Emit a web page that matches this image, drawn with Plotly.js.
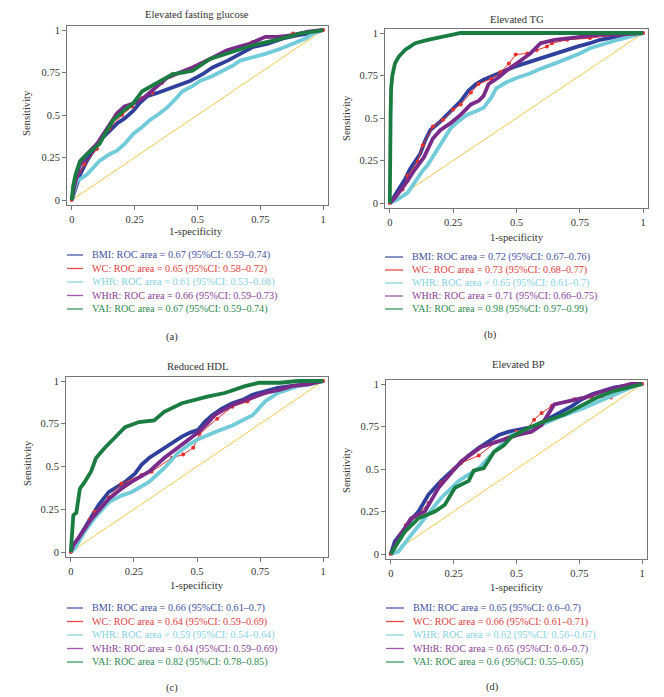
<!DOCTYPE html>
<html>
<head>
<meta charset="utf-8">
<script src="https://cdn.plot.ly/plotly-3.0.1.min.js"></script>
<style>html,body{margin:0;padding:0;background:#fff;}#chart{width:664px;height:697px;}</style>
</head>
<body>
<div id="chart"></div>
<script>
// ---------- DATA ----------
const panelTitles = ["Elevated fasting glucose", "Elevated TG", "Reduced HDL", "Elevated BP"];
const panelLabels = ["(a)", "(b)", "(c)", "(d)"];
const seriesNames = ["BMI", "WC", "WHR", "WHtR", "VAI"];
const tickVals = [0, 0.25, 0.5, 0.75, 1];
const tickText = ["0", "0.25", "0.5", "0.75", "1"];
const refLine = [0, 1];

// (a) Elevated fasting glucose
const glucBMI_x = [0,0.01,0.02,0.033,0.06,0.09,0.125,0.15,0.18,0.21,0.245,0.27,0.30,0.34,0.38,0.43,0.47,0.52,0.56,0.62,0.67,0.72,0.78,0.84,0.9,0.95,1];
const glucBMI_y = [0,0.05,0.09,0.15,0.23,0.3,0.37,0.41,0.45,0.48,0.525,0.57,0.61,0.63,0.65,0.68,0.70,0.74,0.78,0.82,0.86,0.90,0.92,0.95,0.97,0.98,1];
const glucWC_x = [0,0.01,0.02,0.05,0.1,0.15,0.2,0.24,0.28,0.32,0.36,0.4,0.45,0.5,0.55,0.6,0.66,0.72,0.78,0.83,0.88,0.94,1];
const glucWC_y = [0,0.07,0.12,0.21,0.3,0.42,0.5,0.55,0.6,0.63,0.69,0.74,0.76,0.79,0.83,0.86,0.89,0.93,0.96,0.96,0.98,0.99,1];
const glucWHR_x = [0,0.01,0.02,0.06,0.11,0.15,0.18,0.21,0.245,0.28,0.31,0.35,0.38,0.41,0.44,0.48,0.51,0.56,0.60,0.64,0.67,0.72,0.77,0.83,0.88,0.93,0.96,1];
const glucWHR_y = [0,0.06,0.11,0.15,0.23,0.27,0.29,0.33,0.39,0.43,0.47,0.51,0.545,0.59,0.64,0.67,0.70,0.73,0.76,0.79,0.82,0.84,0.86,0.89,0.92,0.95,0.98,1];
const glucWHtR_x = [0,0.01,0.03,0.06,0.1,0.14,0.18,0.21,0.25,0.285,0.33,0.38,0.43,0.48,0.55,0.615,0.66,0.71,0.77,0.82,0.88,0.94,1];
const glucWHtR_y = [0,0.08,0.2,0.27,0.33,0.42,0.51,0.55,0.57,0.60,0.66,0.72,0.75,0.78,0.83,0.88,0.90,0.92,0.96,0.96,0.97,0.99,1];
const glucVAI_x = [0,0.005,0.015,0.033,0.06,0.11,0.14,0.165,0.21,0.245,0.28,0.33,0.40,0.44,0.48,0.55,0.64,0.72,0.81,0.86,0.91,0.96,1];
const glucVAI_y = [0,0.08,0.15,0.23,0.27,0.33,0.41,0.47,0.53,0.57,0.64,0.68,0.74,0.75,0.76,0.83,0.87,0.91,0.94,0.96,0.98,0.99,1];

// (b) Elevated TG
const tgBMI_x = [0,0.01,0.03,0.06,0.08,0.10,0.12,0.14,0.16,0.2,0.24,0.28,0.31,0.34,0.37,0.41,0.45,0.49,0.53,0.58,0.635,0.69,0.74,0.79,0.83,0.9,0.95,1];
const tgBMI_y = [0,0.02,0.07,0.14,0.2,0.25,0.29,0.37,0.43,0.48,0.54,0.6,0.66,0.7,0.725,0.75,0.78,0.8,0.82,0.845,0.87,0.9,0.92,0.94,0.96,0.98,0.99,1];
const tgWC_x = [0,0.02,0.05,0.07,0.11,0.13,0.17,0.21,0.25,0.28,0.32,0.35,0.40,0.437,0.47,0.497,0.543,0.58,0.62,0.64,0.7,0.79,0.9,1];
const tgWC_y = [0,0.03,0.08,0.16,0.245,0.34,0.45,0.49,0.55,0.58,0.65,0.70,0.73,0.77,0.82,0.873,0.88,0.9,0.92,0.94,0.96,0.97,0.99,1];
const tgWHR_x = [0,0.03,0.07,0.11,0.13,0.15,0.2,0.24,0.27,0.305,0.34,0.37,0.4,0.42,0.46,0.5,0.55,0.595,0.65,0.7,0.75,0.79,0.85,0.9,0.95,1];
const tgWHR_y = [0,0.02,0.06,0.15,0.19,0.225,0.34,0.44,0.48,0.52,0.54,0.56,0.62,0.675,0.71,0.735,0.76,0.79,0.82,0.85,0.88,0.91,0.94,0.96,0.98,1];
const tgWHtR_x = [0,0.02,0.04,0.07,0.095,0.135,0.17,0.2,0.24,0.28,0.32,0.35,0.37,0.39,0.43,0.47,0.5,0.555,0.595,0.65,0.71,0.77,0.83,0.9,1];
const tgWHtR_y = [0,0.03,0.07,0.13,0.19,0.27,0.38,0.43,0.47,0.52,0.58,0.60,0.63,0.70,0.74,0.79,0.82,0.88,0.94,0.96,0.97,0.98,0.99,0.99,1];
const tgVAI_x = [0,0,0.003,0.005,0.01,0.02,0.035,0.06,0.1,0.15,0.2,0.26,0.28,0.5,1];
const tgVAI_y = [0,0.07,0.5,0.67,0.75,0.82,0.86,0.9,0.94,0.96,0.975,0.99,1,1,1];

// (c) Reduced HDL
const hdlBMI_x = [0,0.01,0.03,0.07,0.11,0.15,0.19,0.215,0.255,0.28,0.31,0.34,0.37,0.4,0.44,0.475,0.505,0.53,0.56,0.6,0.64,0.68,0.72,0.77,0.82,0.87,0.93,1];
const hdlBMI_y = [0,0.04,0.08,0.18,0.275,0.35,0.39,0.41,0.46,0.51,0.55,0.58,0.61,0.64,0.675,0.70,0.715,0.76,0.80,0.84,0.87,0.89,0.92,0.94,0.96,0.97,0.98,1];
const hdlWC_x = [0,0.03,0.075,0.095,0.15,0.2,0.28,0.32,0.4,0.445,0.485,0.51,0.58,0.64,0.7,0.77,0.88,1];
const hdlWC_y = [0,0.08,0.19,0.235,0.32,0.4,0.45,0.47,0.55,0.57,0.61,0.69,0.78,0.85,0.88,0.93,0.97,1];
const hdlWHR_x = [0,0.016,0.055,0.095,0.15,0.2,0.24,0.31,0.37,0.425,0.47,0.505,0.57,0.64,0.72,0.77,0.82,0.9,0.95,1];
const hdlWHR_y = [0,0.02,0.12,0.2,0.29,0.33,0.35,0.41,0.49,0.58,0.63,0.66,0.70,0.74,0.80,0.88,0.93,0.97,0.98,1];
const hdlWHtR_x = [0,0.01,0.03,0.08,0.15,0.2,0.24,0.31,0.37,0.44,0.505,0.54,0.57,0.64,0.72,0.77,0.83,0.875,0.94,1];
const hdlWHtR_y = [0,0.04,0.08,0.19,0.31,0.37,0.41,0.47,0.55,0.63,0.70,0.75,0.80,0.86,0.90,0.93,0.95,0.97,0.98,1];
const hdlVAI_x = [0,0.005,0.01,0.022,0.036,0.055,0.08,0.1,0.135,0.175,0.215,0.27,0.33,0.37,0.44,0.545,0.61,0.69,0.745,0.83,0.9,1];
const hdlVAI_y = [0,0.08,0.215,0.23,0.37,0.41,0.47,0.55,0.61,0.67,0.73,0.76,0.77,0.82,0.87,0.91,0.93,0.97,0.99,0.99,1,1];

// (d) Elevated BP
const bpBMI_x = [0,0.016,0.055,0.08,0.11,0.15,0.2,0.27,0.31,0.35,0.39,0.43,0.47,0.505,0.57,0.62,0.66,0.72,0.76,0.8,0.89,0.95,1];
const bpBMI_y = [0,0.075,0.15,0.2,0.25,0.35,0.43,0.525,0.58,0.625,0.66,0.70,0.72,0.73,0.75,0.79,0.82,0.87,0.91,0.94,0.98,0.99,1];
const bpWC_x = [0,0.04,0.06,0.1,0.15,0.2,0.25,0.28,0.35,0.42,0.5,0.545,0.57,0.6,0.64,0.73,0.8,0.875,0.94,1];
const bpWC_y = [0,0.12,0.17,0.22,0.3,0.42,0.5,0.535,0.58,0.66,0.72,0.74,0.79,0.83,0.87,0.91,0.92,0.92,0.97,1];
const bpWHR_x = [0,0.03,0.08,0.135,0.2,0.27,0.35,0.41,0.48,0.57,0.66,0.77,0.875,0.955,1];
const bpWHR_y = [0,0.015,0.11,0.21,0.33,0.43,0.505,0.60,0.70,0.74,0.80,0.86,0.93,0.98,1];
const bpWHtR_x = [0,0.03,0.08,0.135,0.19,0.23,0.28,0.36,0.44,0.505,0.56,0.6,0.65,0.72,0.77,0.85,0.955,1];
const bpWHtR_y = [0,0.09,0.21,0.25,0.39,0.46,0.545,0.63,0.67,0.70,0.72,0.76,0.88,0.90,0.92,0.96,1,1];
const bpVAI_x = [0,0.016,0.055,0.11,0.175,0.215,0.255,0.31,0.33,0.37,0.41,0.45,0.48,0.545,0.61,0.69,0.74,0.82,0.89,1];
const bpVAI_y = [0,0.035,0.13,0.21,0.25,0.29,0.39,0.43,0.49,0.505,0.60,0.64,0.69,0.74,0.78,0.82,0.86,0.92,0.96,1];

// legend texts
const legendA = ["BMI: ROC area = 0.67 (95%CI: 0.59–0.74)","WC: ROC area = 0.65 (95%CI: 0.58–0.72)","WHR: ROC area = 0.61 (95%CI: 0.53–0.68)","WHtR: ROC area = 0.66 (95%CI: 0.59–0.73)","VAI: ROC area = 0.67 (95%CI: 0.59–0.74)"];
const legendB = ["BMI: ROC area = 0.72 (95%CI: 0.67–0.76)","WC: ROC area = 0.73 (95%CI: 0.68–0.77)","WHR: ROC area = 0.65 (95%CI: 0.61–0.7)","WHtR: ROC area = 0.71 (95%CI: 0.66–0.75)","VAI: ROC area = 0.98 (95%CI: 0.97–0.99)"];
const legendC = ["BMI: ROC area = 0.66 (95%CI: 0.61–0.7)","WC: ROC area = 0.64 (95%CI: 0.59–0.69)","WHR: ROC area = 0.59 (95%CI: 0.54–0.64)","WHtR: ROC area = 0.64 (95%CI: 0.59–0.69)","VAI: ROC area = 0.82 (95%CI: 0.78–0.85)"];
const legendD = ["BMI: ROC area = 0.65 (95%CI: 0.6–0.7)","WC: ROC area = 0.66 (95%CI: 0.61–0.71)","WHR: ROC area = 0.62 (95%CI: 0.56–0.67)","WHtR: ROC area = 0.65 (95%CI: 0.6–0.7)","VAI: ROC area = 0.6 (95%CI: 0.55–0.65)"];

// ---------- STYLE / LAYOUT ----------
const W = 664, H = 697;
const FONT = '"Liberation Serif", "DejaVu Serif", serif';
const lineColors = ["#2f3f9c", "#e5302c", "#72cbd8", "#7a2a88", "#1a7c40"];
const textColors = ["#3f50a4", "#e2403c", "#86d2de", "#8a4298", "#2e8a4e"];
const sampleColors = ["#4a5aa8", "#e54a45", "#8ad4e0", "#9a5aa6", "#3a9a5a"];
const lineWidths = [3.8, 1, 3.8, 3.8, 3.8];
const px = v => v / W;
const py = v => 1 - v / H;

const panelData = [
  [[glucBMI_x, glucBMI_y],[glucWC_x, glucWC_y],[glucWHR_x, glucWHR_y],[glucWHtR_x, glucWHtR_y],[glucVAI_x, glucVAI_y]],
  [[tgBMI_x, tgBMI_y],[tgWC_x, tgWC_y],[tgWHR_x, tgWHR_y],[tgWHtR_x, tgWHtR_y],[tgVAI_x, tgVAI_y]],
  [[hdlBMI_x, hdlBMI_y],[hdlWC_x, hdlWC_y],[hdlWHR_x, hdlWHR_y],[hdlWHtR_x, hdlWHtR_y],[hdlVAI_x, hdlVAI_y]],
  [[bpBMI_x, bpBMI_y],[bpWC_x, bpWC_y],[bpWHR_x, bpWHR_y],[bpWHtR_x, bpWHtR_y],[bpVAI_x, bpVAI_y]]
];
const legends = [legendA, legendB, legendC, legendD];

// pixel geometry of each panel
const geo = [
  {box:[67,328,26,205], title:[197,15], xl:[196,232], yl:[27,113], leg:{x0:67,x1:83,tx:90,rows:[255,268.5,282,295.5,309]}, lab:[172,337]},
  {box:[385,648,29,208], title:[517,20], xl:[517,237], yl:[346,118], leg:{x0:385,x1:403,tx:410,rows:[257,270,283,296,309]}, lab:[490,335]},
  {box:[66,328,377,557], title:[197,367], xl:[197,585], yl:[27,463], leg:{x0:67,x1:83,tx:90,rows:[608,621.5,635,648.5,662]}, lab:[172,688]},
  {box:[386,647,380,559], title:[518,364], xl:[517,587], yl:[346,470], leg:{x0:386,x1:404,tx:411,rows:[608,621.5,635,648.5,662]}, lab:[492,687]}
];

const traces = [];
const layout = {
  width: W, height: H,
  margin: {l:0, r:0, t:0, b:0},
  paper_bgcolor: "#fff", plot_bgcolor: "#fff",
  showlegend: false,
  font: {family: FONT, size: 10.5, color: "#333"},
  annotations: [], shapes: []
};

geo.forEach((g, p) => {
  const n = p === 0 ? "" : String(p + 1);
  const xa = "x" + n, ya = "y" + n;
  // reference diagonal
  traces.push({x: refLine, y: refLine, xaxis: xa, yaxis: ya, mode: "lines",
    line: {color: "#f2c94c", width: 1}, hoverinfo: "skip"});
  panelData[p].forEach((d, s) => {
    const t = {x: d[0], y: d[1], xaxis: xa, yaxis: ya, name: seriesNames[s],
      mode: s === 1 ? "lines+markers" : "lines",
      line: {color: lineColors[s], width: lineWidths[s]}};
    if (s === 1) t.marker = {color: lineColors[s], size: 4};
    traces.push(t);
  });
  const axCommon = {
    showgrid: false, zeroline: false, showline: true, mirror: true,
    linecolor: "#777", linewidth: 1, ticks: "outside", ticklen: 4, tickwidth: 1,
    tickcolor: "#777", tickvals: tickVals, ticktext: tickText,
    tickfont: {family: FONT, size: 10.5, color: "#333"}, fixedrange: true
  };
  layout["xaxis" + n] = Object.assign({}, axCommon, {
    domain: [px(g.box[0]), px(g.box[1])], range: [-0.019, 1.019], anchor: ya
  });
  layout["yaxis" + n] = Object.assign({}, axCommon, {
    domain: [py(g.box[3]), py(g.box[2])], range: [-0.029, 1.0235], anchor: xa
  });
  const ann = layout.annotations;
  ann.push({text: panelTitles[p], x: px(g.title[0]), y: py(g.title[1]), xref: "paper", yref: "paper",
    xanchor: "center", yanchor: "middle", showarrow: false, font: {family: FONT, size: 10.6, color: "#333"}});
  ann.push({text: "1-specificity", x: px(g.xl[0]), y: py(g.xl[1]), xref: "paper", yref: "paper",
    xanchor: "center", yanchor: "middle", showarrow: false, font: {family: FONT, size: 10.6, color: "#333"}});
  ann.push({text: "Sensitivity", x: px(g.yl[0]), y: py(g.yl[1]), xref: "paper", yref: "paper", textangle: -90,
    xanchor: "center", yanchor: "middle", showarrow: false, font: {family: FONT, size: 10.6, color: "#333"}});
  ann.push({text: panelLabels[p], x: px(g.lab[0]), y: py(g.lab[1]), xref: "paper", yref: "paper",
    xanchor: "center", yanchor: "middle", showarrow: false, font: {family: FONT, size: 10.5, color: "#333"}});
  legends[p].forEach((txt, s) => {
    const yy = g.leg.rows[s];
    layout.shapes.push({type: "line", xref: "paper", yref: "paper",
      x0: px(g.leg.x0), x1: px(g.leg.x1), y0: py(yy), y1: py(yy),
      line: {color: sampleColors[s], width: 1.3}});
    ann.push({text: txt, x: px(g.leg.tx), y: py(yy), xref: "paper", yref: "paper",
      xanchor: "left", yanchor: "middle", showarrow: false,
      font: {family: FONT, size: 10.2, color: textColors[s]}});
  });
});

Plotly.newPlot("chart", traces, layout, {staticPlot: true, displayModeBar: false});
</script>
</body>
</html>
